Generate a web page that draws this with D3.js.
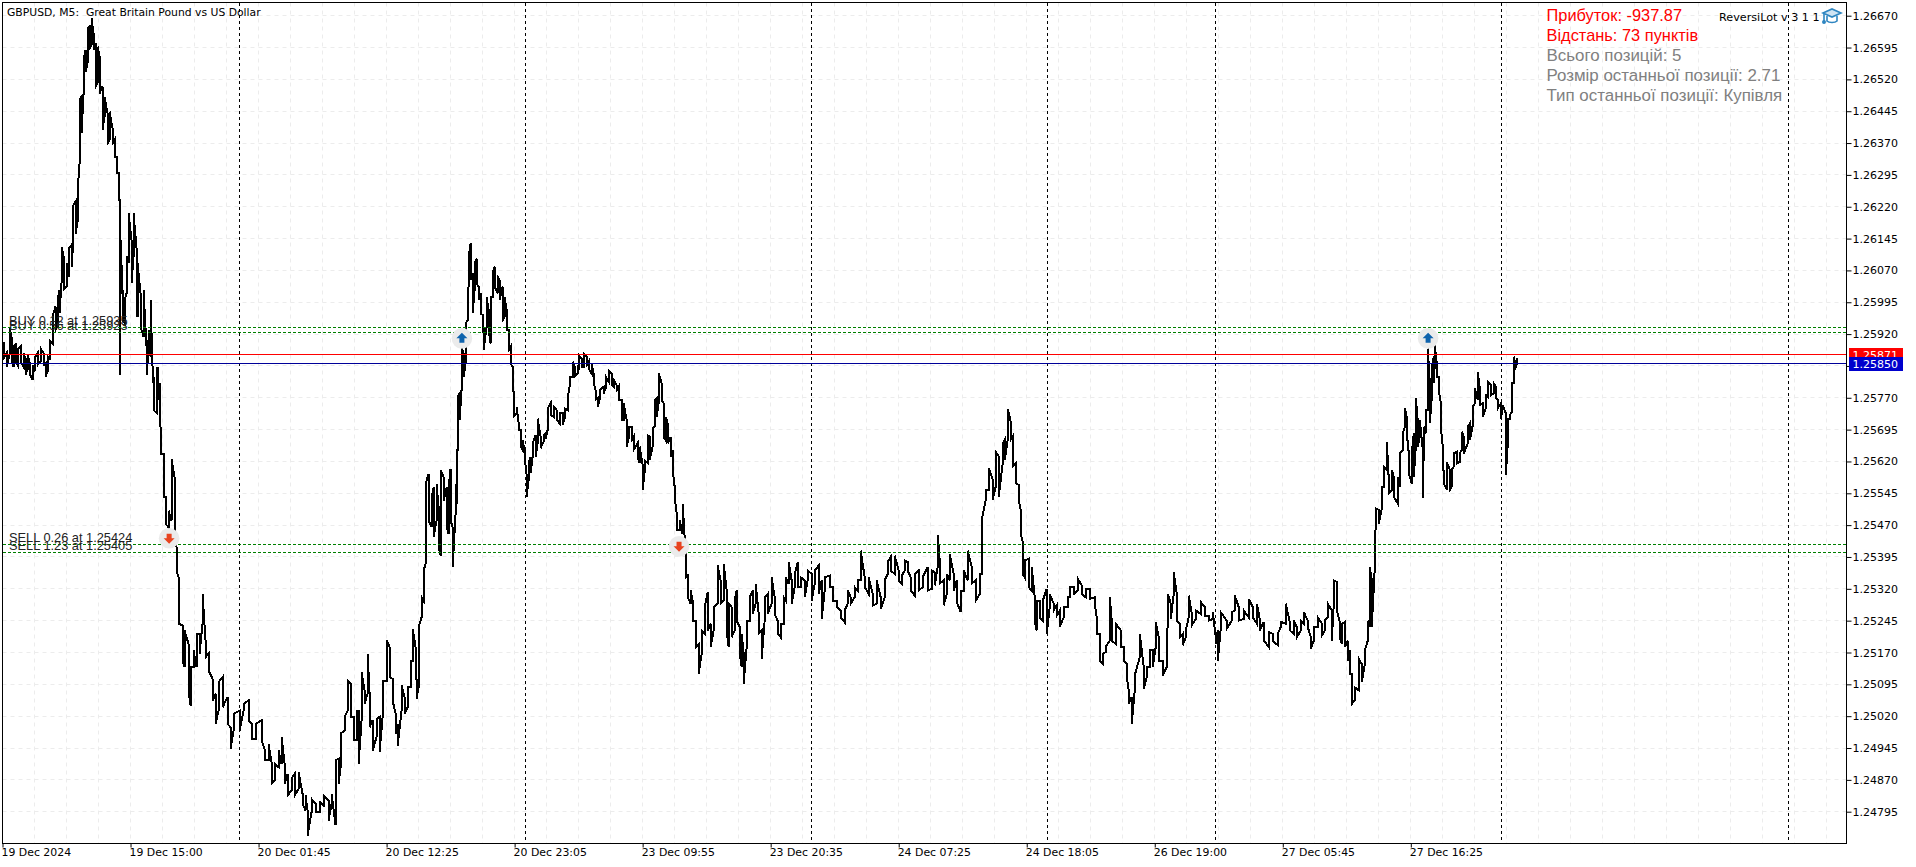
<!DOCTYPE html>
<html><head><meta charset="utf-8"><style>
html,body{margin:0;padding:0;background:#fff;overflow:hidden}
svg{display:block}
text{font-family:"DejaVu Sans",sans-serif}
</style>
<script src="https://cdn.jsdelivr.net/npm/d3@7"></script></head><body>
<svg id="c" width="1916" height="867"></svg>
<script>
const title="GBPUSD, M5:  Great Britain Pound vs US Dollar";
const yTicks=[1.2667,1.26595,1.2652,1.26445,1.2637,1.26295,1.2622,1.26145,1.2607,1.25995,1.2592,1.25845,1.2577,1.25695,1.2562,1.25545,1.2547,1.25395,1.2532,1.25245,1.2517,1.25095,1.2502,1.24945,1.2487,1.24795];
const xLabels=["19 Dec 2024","19 Dec 15:00","20 Dec 01:45","20 Dec 12:25","20 Dec 23:05","23 Dec 09:55","23 Dec 20:35","24 Dec 07:25","24 Dec 18:05","26 Dec 19:00","27 Dec 05:45","27 Dec 16:25"];
const xLabelBars=[2,130,258,386,514,642,770,898,1026,1154,1282,1410];
const separatorBars=[238.5,524.5,810.5,1046.5,1214.5,1500.5,1787.5];
const bidPrice=1.25850, askPrice=1.25871;
const orderLabels=["BUY 0.12 at 1.25935","BUY 0.56 at 1.25923","SELL 0.26 at 1.25424","SELL 1.23 at 1.25405"];
const orderPrices=[1.25935,1.25923,1.25424,1.25405];
const dealBars=[168.6,461.3,678.4,1427.3];
const dealPrices=[1.25439,1.25910,1.25420,1.25910];
const dealTypes=["sell","buy","sell","buy"];
const infoLines=["Прибуток: -937.87","Відстань: 73 пунктів","Всього позицій: 5","Розмір останньої позиції: 2.71","Тип останньої позиції: Купівля"];
const infoColors=["#ff0000","#ff0000","#808080","#808080","#808080"];
const brand="ReversiLot v 3 1 1";

const bars=[3,6,9,11,13,15,17,20,23,25,27,29,32,34,37,40,43,45,47,49,52,55,57,59,61,63,66,68,71,72,75,77,79,81,83,85,87,89,91,93,95,97,99,102,104,107,109,112,114,116,118,119,120,122,124,126,128,131,133,136,137,140,143,145,146,148,150,152,153,156,157,159,
160,163,165,168,171,174,176,178,182,184,188,190,193,196,199,202,205,208,212,215,218,222,227,230,233,239,243,248,251,255,261,264,268,271,274,278,281,284,287,291,294,298,302,305,307,311,315,319,323,328,331,335,338,340,344,347,350,353,356,358,361,364,367,369,372,376,379,382,386,389,392,395,397,401,404,407,410,412,415,416,418,421,423,425,428,431,433,436,438,440,443,446,448,450,452,455,456,
457,459,461,463,465,467,468,470,472,474,476,478,480,482,483,486,488,490,492,494,497,499,502,504,506,508,510,512,513,516,518,520,522,524,526,528,530,532,535,537,540,543,545,547,550,553,556,559,562,564,567,569,572,574,577,578,581,583,586,588,591,593,595,597,599,603,605,608,611,613,616,618,621,623,626,628,631,633,637,639,642,644,647,649,652,654,656,658,661,663,665,667,670,672,674,676,679,
682,685,687,690,692,695,698,701,704,707,710,713,717,720,723,726,728,731,734,736,739,741,743,746,749,752,755,758,761,764,767,771,774,777,780,783,785,788,791,794,797,800,804,807,811,814,818,821,824,829,832,836,840,844,847,850,854,857,860,864,868,872,876,880,884,887,890,894,898,901,904,907,910,914,918,922,927,931,934,937,939,943,946,949,953,956,960,963,967,971,975,979,981,
985,988,992,995,998,1002,1004,1007,1010,1012,1015,1018,1020,1022,1024,1028,1031,1034,1036,1039,1042,1046,1049,1053,1056,1059,1063,1067,1069,1073,1077,1081,1085,1089,1094,1096,1099,1102,1105,1109,1111,1115,1120,1123,1126,1128,1131,1134,1139,1143,1146,1149,1152,1155,1158,1162,1166,1167,1170,1173,1176,1179,1182,1185,1188,1191,1195,1200,1204,1208,1212,1215,1217,1220,1226,1231,1234,1238,1243,1248,1252,1256,1259,1263,1268,1272,1277,
1280,1285,1289,1293,1296,1300,1303,1307,1310,1313,1317,1321,1324,1327,1331,1333,1336,1339,1341,1344,1347,1349,1351,1354,1358,1361,1364,1367,1369,1371,1374,
1375,1378,1381,1383,1386,1388,1391,1393,1397,1399,1402,1404,1406,1408,1411,1413,1415,1417,1419,1422,1423,1425,1427,1429,1431,1433,1434,1436,1438,1440,1442,1443,1446,1449,1451,1453,1456,1459,1461,1463,1467,1469,1472,1474,1477,1479,1482,1485,1487,1490,1493,1495,1497,1500,1502,1505,1507,1509,1511,1513,1514,1516];

const highs=[1.25902,1.25875,1.25934,1.25914,1.25891,1.25895,1.25883,1.25891,1.25875,1.25863,1.25871,1.25855,1.25847,1.25863,1.25875,1.25887,1.25875,1.25851,1.25867,1.25906,1.25961,1.25985,1.26000,1.26024,1.26126,1.26103,1.26087,1.26122,1.26130,1.26220,1.26232,1.26252,1.26472,1.26479,1.26566,1.26589,1.26640,1.26644,1.26664,1.26629,1.26605,1.26597,1.26574,1.26503,1.26479,1.26440,1.26444,1.26405,1.26377,1.26338,1.26299,1.26236,1.26142,1.26024,1.26000,1.26103,1.26205,1.26142,1.26205,1.26122,1.26087,1.26016,1.26024,1.25934,1.25906,1.25930,1.26000,1.25843,1.25820,1.25812,1.25843,1.25804,
1.25700,1.25638,1.25536,1.25504,1.25626,1.25583,1.25418,1.25347,1.25234,1.25222,1.25190,1.25136,1.25175,1.25214,1.25214,1.25308,1.25198,1.25167,1.25108,1.25073,1.25100,1.25112,1.25065,1.24994,1.25026,1.25033,1.25049,1.25057,1.25002,1.25002,1.25010,1.24943,1.24955,1.24912,1.24908,1.24939,1.24971,1.24908,1.24884,1.24873,1.24884,1.24888,1.24837,1.24833,1.24798,1.24825,1.24814,1.24818,1.24833,1.24821,1.24837,1.24916,1.24920,1.24979,1.25018,1.25104,1.25096,1.25018,1.25033,1.25033,1.25124,1.25081,1.25167,1.25073,1.25010,1.25014,1.25018,1.25104,1.25198,1.25183,1.25108,1.25026,1.25002,1.25092,1.25065,1.25088,1.25151,1.25226,1.25183,1.25104,1.25230,1.25300,1.25363,1.25567,1.25591,1.25536,1.25559,1.25567,1.25512,1.25599,1.25583,1.25559,1.25559,1.25603,1.25465,1.25567,1.25646,
1.25772,1.25780,1.25886,1.25875,1.25945,1.26024,1.26098,1.26135,1.26063,1.26087,1.26098,1.26032,1.26016,1.25965,1.25937,1.26008,1.25977,1.26008,1.26063,1.26079,1.26055,1.26047,1.26032,1.26008,1.25977,1.25929,1.25890,1.25843,1.25784,1.25749,1.25710,1.25694,1.25670,1.25647,1.25588,1.25615,1.25631,1.25663,1.25682,1.25721,1.25678,1.25682,1.25686,1.25745,1.25757,1.25749,1.25741,1.25733,1.25733,1.25745,1.25769,1.25820,1.25855,1.25843,1.25847,1.25871,1.25863,1.25875,1.25867,1.25855,1.25851,1.25827,1.25788,1.25769,1.25788,1.25796,1.25820,1.25835,1.25827,1.25812,1.25800,1.25796,1.25765,1.25757,1.25718,1.25702,1.25702,1.25678,1.25663,1.25655,1.25612,1.25623,1.25682,1.25678,1.25698,1.25765,1.25769,1.25827,1.25804,1.25757,1.25725,1.25710,1.25678,1.25647,1.25561,1.25498,1.25482,
1.25520,1.25402,1.25351,1.25316,1.25292,1.25245,1.25190,1.25222,1.25277,1.25312,1.25238,1.25277,1.25375,1.25340,1.25379,1.25316,1.25285,1.25277,1.25292,1.25316,1.25230,1.25214,1.25167,1.25245,1.25300,1.25316,1.25332,1.25261,1.25222,1.25300,1.25308,1.25347,1.25300,1.25245,1.25238,1.25300,1.25347,1.25383,1.25340,1.25355,1.25383,1.25347,1.25340,1.25363,1.25355,1.25363,1.25375,1.25340,1.25347,1.25351,1.25324,1.25292,1.25269,1.25269,1.25316,1.25300,1.25324,1.25340,1.25410,1.25347,1.25347,1.25308,1.25340,1.25300,1.25340,1.25383,1.25395,1.25398,1.25363,1.25351,1.25387,1.25383,1.25347,1.25355,1.25363,1.25347,1.25371,1.25363,1.25359,1.25446,1.25387,1.25340,1.25355,1.25402,1.25355,1.25340,1.25316,1.25363,1.25410,1.25371,1.25340,1.25355,1.25481,
1.25553,1.25604,1.25577,1.25643,1.25632,1.25663,1.25671,1.25743,1.25714,1.25679,1.25616,1.25565,1.25505,1.25430,1.25387,1.25391,1.25371,1.25300,1.25292,1.25292,1.25292,1.25320,1.25308,1.25285,1.25281,1.25269,1.25277,1.25300,1.25324,1.25324,1.25344,1.25328,1.25320,1.25320,1.25300,1.25253,1.25214,1.25167,1.25183,1.25300,1.25245,1.25238,1.25222,1.25183,1.25143,1.25081,1.25065,1.25116,1.25214,1.25136,1.25136,1.25175,1.25175,1.25241,1.25206,1.25151,1.25175,1.25308,1.25285,1.25359,1.25308,1.25238,1.25214,1.25222,1.25304,1.25261,1.25269,1.25289,1.25277,1.25257,1.25265,1.25206,1.25222,1.25265,1.25245,1.25265,1.25304,1.25277,1.25269,1.25296,1.25277,1.25285,1.25249,1.25242,1.25218,1.25214,1.25214,
1.25242,1.25285,1.25242,1.25245,1.25230,1.25245,1.25265,1.25245,1.25206,1.25230,1.25253,1.25238,1.25245,1.25285,1.25269,1.25340,1.25336,1.25242,1.25238,1.25242,1.25198,1.25175,1.25120,1.25088,1.25155,1.25143,1.25175,1.25245,1.25371,1.25340,1.25450,
1.25509,1.25506,1.25561,1.25608,1.25666,1.25576,1.25600,1.25584,1.25584,1.25639,1.25686,1.25745,1.25725,1.25639,1.25639,1.25686,1.25769,1.25714,1.25718,1.25647,1.25702,1.25741,1.25886,1.25804,1.25843,1.25867,1.25894,1.25851,1.25820,1.25757,1.25655,1.25592,1.25619,1.25600,1.25600,1.25639,1.25643,1.25639,1.25690,1.25678,1.25702,1.25710,1.25749,1.25792,1.25831,1.25792,1.25757,1.25776,1.25808,1.25800,1.25804,1.25796,1.25765,1.25757,1.25753,1.25733,1.25721,1.25729,1.25804,1.25867,1.25855,1.25863];

const lows=[1.25863,1.25843,1.25871,1.25859,1.25843,1.25855,1.25847,1.25855,1.25843,1.25824,1.25836,1.25828,1.25812,1.25832,1.25847,1.25855,1.25847,1.25820,1.25832,1.25863,1.25898,1.25930,1.25938,1.25969,1.26040,1.26024,1.26032,1.26055,1.26079,1.26110,1.26157,1.26185,1.26322,1.26393,1.26483,1.26538,1.26558,1.26593,1.26601,1.26589,1.26503,1.26511,1.26487,1.26401,1.26432,1.26369,1.26377,1.26369,1.26338,1.26299,1.26236,1.25824,1.26016,1.25953,1.25946,1.26016,1.26087,1.26040,1.26103,1.26016,1.25961,1.25938,1.25914,1.25891,1.25824,1.25875,1.25867,1.25804,1.25741,1.25734,1.25765,1.25718,
1.25638,1.25536,1.25473,1.25465,1.25481,1.25457,1.25363,1.25238,1.25151,1.25136,1.25081,1.25045,1.25136,1.25136,1.25167,1.25238,1.25159,1.25128,1.25057,1.25002,1.25033,1.25041,1.25002,1.24943,1.24986,1.24986,1.25033,1.25010,1.24967,1.24967,1.24963,1.24916,1.24916,1.24861,1.24869,1.24900,1.24908,1.24861,1.24833,1.24845,1.24833,1.24849,1.24814,1.24798,1.24739,1.24794,1.24794,1.24794,1.24810,1.24774,1.24814,1.24763,1.24861,1.24900,1.24986,1.25033,1.25018,1.24963,1.24963,1.24908,1.25010,1.25049,1.25073,1.24994,1.24939,1.24971,1.24935,1.25018,1.25104,1.25112,1.25057,1.24979,1.24951,1.25033,1.25026,1.25041,1.25088,1.25151,1.25136,1.25061,1.25088,1.25253,1.25292,1.25379,1.25481,1.25465,1.25442,1.25481,1.25418,1.25398,1.25528,1.25465,1.25450,1.25481,1.25371,1.25497,1.25520,
1.25647,1.25718,1.25788,1.25820,1.25851,1.25953,1.26032,1.26047,1.25969,1.26024,1.26039,1.26000,1.25969,1.25922,1.25882,1.25937,1.25929,1.25898,1.26008,1.26032,1.26016,1.26000,1.25953,1.25961,1.25929,1.25882,1.25851,1.25788,1.25725,1.25733,1.25694,1.25655,1.25647,1.25631,1.25537,1.25576,1.25592,1.25631,1.25631,1.25663,1.25651,1.25667,1.25674,1.25694,1.25729,1.25725,1.25718,1.25710,1.25706,1.25721,1.25741,1.25796,1.25820,1.25820,1.25827,1.25835,1.25843,1.25843,1.25847,1.25839,1.25827,1.25804,1.25765,1.25749,1.25765,1.25780,1.25792,1.25808,1.25800,1.25796,1.25788,1.25765,1.25718,1.25718,1.25655,1.25674,1.25670,1.25647,1.25631,1.25616,1.25553,1.25596,1.25616,1.25623,1.25655,1.25702,1.25725,1.25757,1.25765,1.25678,1.25670,1.25663,1.25631,1.25600,1.25537,1.25458,1.25458,
1.25449,1.25347,1.25300,1.25285,1.25245,1.25183,1.25120,1.25167,1.25214,1.25222,1.25183,1.25222,1.25285,1.25285,1.25292,1.25222,1.25183,1.25206,1.25222,1.25245,1.25167,1.25136,1.25096,1.25183,1.25245,1.25261,1.25285,1.25214,1.25155,1.25245,1.25261,1.25285,1.25261,1.25214,1.25206,1.25238,1.25292,1.25332,1.25285,1.25324,1.25324,1.25324,1.25300,1.25340,1.25292,1.25332,1.25308,1.25249,1.25316,1.25324,1.25292,1.25277,1.25253,1.25241,1.25285,1.25285,1.25300,1.25316,1.25340,1.25324,1.25308,1.25281,1.25285,1.25273,1.25300,1.25355,1.25363,1.25355,1.25340,1.25332,1.25363,1.25363,1.25316,1.25304,1.25316,1.25324,1.25316,1.25320,1.25328,1.25371,1.25332,1.25281,1.25308,1.25340,1.25316,1.25289,1.25265,1.25316,1.25340,1.25332,1.25292,1.25308,1.25355,
1.25530,1.25553,1.25530,1.25561,1.25537,1.25616,1.25624,1.25671,1.25671,1.25608,1.25569,1.25530,1.25449,1.25355,1.25347,1.25324,1.25316,1.25245,1.25222,1.25253,1.25245,1.25214,1.25277,1.25269,1.25257,1.25231,1.25253,1.25277,1.25300,1.25308,1.25316,1.25308,1.25300,1.25296,1.25285,1.25214,1.25151,1.25143,1.25171,1.25198,1.25198,1.25190,1.25183,1.25151,1.25112,1.25049,1.25002,1.25081,1.25159,1.25085,1.25112,1.25136,1.25136,1.25183,1.25151,1.25116,1.25136,1.25245,1.25249,1.25308,1.25245,1.25206,1.25187,1.25206,1.25253,1.25234,1.25249,1.25261,1.25257,1.25245,1.25249,1.25190,1.25151,1.25226,1.25226,1.25245,1.25269,1.25245,1.25249,1.25253,1.25253,1.25238,1.25222,1.25198,1.25183,1.25198,1.25187,
1.25230,1.25238,1.25222,1.25214,1.25206,1.25222,1.25238,1.25230,1.25179,1.25198,1.25230,1.25210,1.25222,1.25253,1.25198,1.25285,1.25269,1.25206,1.25190,1.25183,1.25151,1.25120,1.25049,1.25057,1.25081,1.25100,1.25143,1.25198,1.25230,1.25230,1.25371,
1.25462,1.25474,1.25509,1.25561,1.25600,1.25545,1.25553,1.25537,1.25521,1.25561,1.25647,1.25702,1.25686,1.25592,1.25568,1.25584,1.25655,1.25655,1.25678,1.25533,1.25655,1.25686,1.25741,1.25710,1.25772,1.25804,1.25851,1.25820,1.25788,1.25702,1.25615,1.25568,1.25553,1.25553,1.25561,1.25608,1.25615,1.25619,1.25647,1.25639,1.25663,1.25670,1.25706,1.25757,1.25765,1.25753,1.25725,1.25745,1.25772,1.25776,1.25780,1.25769,1.25745,1.25721,1.25749,1.25588,1.25663,1.25721,1.25737,1.25804,1.25835,1.25851];

const W=1916,H=867,L=2.5,R=1846.5,T=2.5,B=843.5;
const svg=d3.select("#c");
svg.append("rect").attr("width",W).attr("height",H).attr("fill","#fff");
const x=d3.scaleLinear().domain([2,1846]).range([L,R+0.4]);
const y=d3.scaleLinear().domain([1.24795,1.26670]).range([811.7,15.7]);
const snap=v=>Math.round(v-0.5)+0.5;

// grid
const grid=svg.append("g").attr("stroke","#ececec").attr("stroke-width",1).attr("stroke-dasharray","4,4");
grid.selectAll("line.h").data(yTicks).join("line").attr("class","h")
  .attr("x1",L).attr("x2",R).attr("y1",d=>snap(y(d))).attr("y2",d=>snap(y(d)));
grid.selectAll("line.v").data(d3.range(34,R,32)).join("line").attr("class","v")
  .attr("x1",d=>snap(x(d))).attr("x2",d=>snap(x(d))).attr("y1",T).attr("y2",B);

// price series
const pts=[];
let last=null;
bars.forEach((b,i)=>{
  const hi=[b,highs[i]],lo=[b,lows[i]];
  if(last===null||Math.abs(last-highs[i])<=Math.abs(last-lows[i])){pts.push(hi,lo);last=lows[i];}
  else{pts.push(lo,hi);last=highs[i];}
});
const line=d3.line().x(d=>x(d[0])).y(d=>y(d[1]));
svg.append("path").attr("d",line(pts)).attr("fill","none").attr("stroke","#000").attr("stroke-width",2).attr("shape-rendering","crispEdges");

// period separators
svg.append("g").selectAll("line").data(separatorBars).join("line")
  .attr("x1",d=>snap(x(d))).attr("x2",d=>snap(x(d))).attr("y1",T).attr("y2",B)
  .attr("stroke","#000").attr("stroke-dasharray","3,3").attr("shape-rendering","crispEdges");

// orders
svg.append("g").selectAll("line").data(orderPrices).join("line")
  .attr("x1",L).attr("x2",R).attr("y1",d=>snap(y(d))).attr("y2",d=>snap(y(d)))
  .attr("stroke","#008000").attr("stroke-dasharray","3,2").attr("shape-rendering","crispEdges");
svg.append("g").selectAll("text").data(orderLabels).join("text")
  .attr("x",9).attr("y",(d,i)=>y(orderPrices[i])-2.5).text(d=>d)
  .attr("font-size",12.8).attr("fill","#222").style("font-family","'Liberation Sans',sans-serif");

// bid / ask
[[askPrice,"#ff0000"],[bidPrice,"#000099"]].forEach(([p,c])=>{
  svg.append("line").attr("x1",L).attr("x2",R).attr("y1",snap(y(p))).attr("y2",snap(y(p))).attr("stroke",c).attr("shape-rendering","crispEdges");
});

// deal markers
const deals=svg.append("g").selectAll("g").data(dealBars).join("g")
  .attr("transform",(d,i)=>`translate(${x(d)},${y(dealPrices[i])})`);
deals.append("circle").attr("r",10.3).attr("fill","#ebebeb");
deals.append("path").attr("d",(d,i)=>dealTypes[i]==="buy"?"M0,-5.5L5.5,0H2.5V4.5H-2.5V0H-5.5Z":"M0,5.5L5.5,0H2.5V-4.5H-2.5V0H-5.5Z")
  .attr("fill",(d,i)=>dealTypes[i]==="buy"?"#0f63ad":"#e8431f");

// frame
svg.append("rect").attr("x",L).attr("y",T).attr("width",R-L).attr("height",B-T).attr("fill","none").attr("stroke","#000").attr("shape-rendering","crispEdges");

// axes
const yAxis=d3.axisRight(y).tickValues(yTicks).tickSize(5).tickPadding(1).tickFormat(d=>d.toFixed(5));
const ya=svg.append("g").attr("transform",`translate(${R},0)`).call(yAxis);
ya.select(".domain").remove();
ya.selectAll("text").attr("font-size",11).attr("fill","#000").style("font-family","'DejaVu Sans',sans-serif");
ya.selectAll("line").attr("stroke","#000");
const labelOf=new Map(xLabelBars.map((b,i)=>[b,xLabels[i]]));
const xAxis=d3.axisBottom(x).tickValues(xLabelBars).tickSize(4).tickPadding(1).tickFormat(d=>labelOf.get(d));
const xa=svg.append("g").attr("transform",`translate(0,${B})`).call(xAxis);
xa.select(".domain").remove();
xa.selectAll("text").attr("text-anchor","start").attr("dx",-1.5).attr("font-size",10.9).attr("fill","#000").style("font-family","'DejaVu Sans',sans-serif");
xa.selectAll("line").attr("stroke","#000");

// price tags
[[askPrice,"#ff0000"],[bidPrice,"#0000cd"]].forEach(([p,c])=>{
  const cy=y(p);
  svg.append("rect").attr("x",1849).attr("y",Math.round(cy-7)).attr("width",54).attr("height",14).attr("fill",c);
  svg.append("text").attr("x",1852.5).attr("y",Math.round(cy+4.5)).text(p.toFixed(5)).attr("font-size",11).attr("fill","#fff");
});

// title, info
svg.append("text").attr("x",7).attr("y",16).text(title).attr("font-size",10.8).attr("fill","#000").attr("xml:space","preserve").style("white-space","pre");
svg.append("g").selectAll("text").data(infoLines).join("text")
  .attr("x",1546.5).attr("y",(d,i)=>20.5+i*20).text(d=>d).attr("fill",(d,i)=>infoColors[i])
  .attr("font-size",(d,i)=>i<2?16.4:16.9).style("font-family","'Liberation Sans',sans-serif");
svg.append("text").attr("x",1719).attr("y",21).text(brand).attr("font-size",11.2).attr("fill","#000");
// cap icon
const cap=svg.append("g").attr("transform","translate(1832,16)").attr("fill","none").attr("stroke","#2f86c1").attr("stroke-width",1.6);
cap.append("path").attr("d","M-9,-3L0,-7L9,-3L0,1Z").attr("fill","#cfe4f3");
cap.append("path").attr("d","M-5,0V5C-3,7 3,7 5,5V0");
cap.append("path").attr("d","M-8,-2V5");
cap.append("circle").attr("cx",-8).attr("cy",6).attr("r",1.2).attr("fill","#2f86c1");
</script></body></html>
